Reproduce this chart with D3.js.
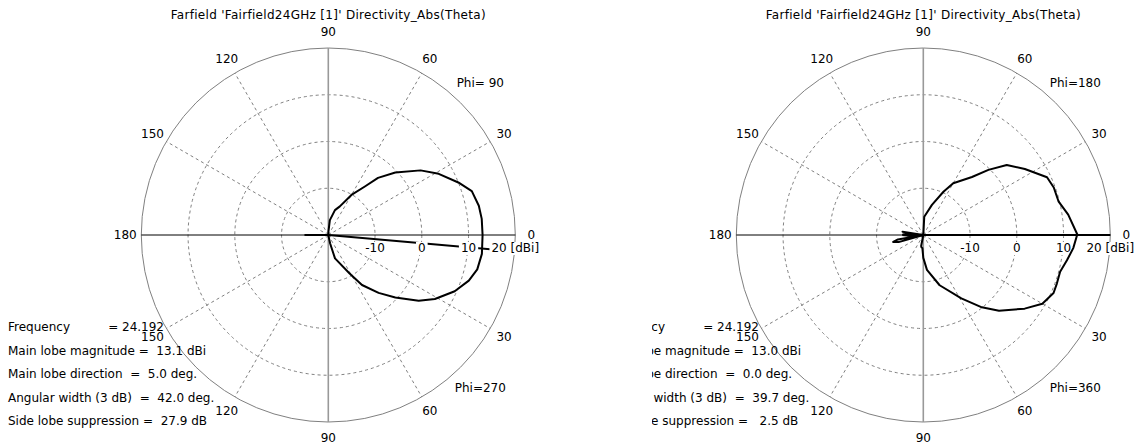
<!DOCTYPE html>
<html lang="en">
<head>
<meta charset="UTF-8"/>
<title>Farfield Directivity</title>
<script src="https://d3js.org/d3.v7.min.js"></script>
<style>
  body { margin: 0; background: #fff; }
  svg { font-family: "DejaVu Sans", "Liberation Sans", Arial, sans-serif; fill: #000; }
  .title { font-size: 12px; letter-spacing: 0.3px; }
  .lbl { font-size: 12px; }
  .info { font-size: 12px; white-space: pre; }
  .grid { fill: none; stroke: #808080; stroke-width: 1; stroke-dasharray: 3,3; }
  .outer { fill: none; stroke: #808080; stroke-width: 1; }
  .haxis { stroke: #000; stroke-width: 1; }
  .vaxis { stroke: #999; stroke-width: 1.6; }
  .curve { fill: none; stroke: #000; stroke-width: 2; stroke-linejoin: round; }
  .dir { stroke: #000; stroke-width: 2; }
</style>
</head>
<body>
<script>
const title = "Farfield 'Fairfield24GHz [1]' Directivity_Abs(Theta)";
const angleTicksTop = [0, 30, 60, 90, 120, 150, 180];
const angleTicksBottom = [30, 60, 90, 120, 150];
const spokeAngles = [30, 60, 120, 150];
const ringTicks = [-10, 0, 10, 20];
const infoLabels = ["Frequency", "Main lobe magnitude", "Main lobe direction", "Angular width (3 dB)", "Side lobe suppression"];

// left plot: Phi=90 (upper half) / Phi=270 (lower half)
const theta90 = [0, 6, 11, 17, 22, 29, 35, 43, 49, 53, 60, 68, 75, 84, 88, 92, 120, 150, 175, 180];
const dir90   = [13.0, 13.0, 12.8, 12.1, 10.0, 7.0, 4.1, -0.4, -3.8, -7.0, -10.1, -13.4, -14.5, -16.8, -19.3, -22, -25, -25, -25, -14.9];
const theta270 = [0, 7, 13, 18, 24, 31, 36, 43, 49, 56, 61, 74, 78, 85, 120, 150, 175, 180];
const dir270   = [13.0, 13.1, 12.7, 11.6, 9.6, 6.6, 3.9, -0.4, -3.6, -7.1, -10.6, -14.8, -18.2, -22, -25, -25, -25, -14.9];
const infoLeft = ["= 24.192", "=  13.1 dBi", "=  5.0 deg.", "=  42.0 deg.", "=  27.9 dB"];

// right plot: Phi=180 (upper half) / Phi=360 (lower half)
const theta180 = [0, 8, 14, 20, 25, 33, 40, 45, 50, 60, 65, 74, 87, 92, 165, 168, 171, 174, 177, 180];
const dir180   = [13.0, 11.3, 9.8, 9.7, 9.2, 5.9, 3.3, -0.3, -3.8, -7.2, -9.8, -13.3, -16.1, -21, -25, -20, -15.5, -20, -16, -15.5];
const theta360 = [0, 5, 10, 15, 20, 24, 30, 36, 45, 51, 59, 72, 84, 90, 94, 98, 101, 104, 160, 164, 167, 170, 174, 177, 180];
const dir360   = [12.9, 12.2, 11.2, 10.3, 10.4, 10.5, 9.4, 6.8, 2.9, -0.1, -4.2, -8.7, -12.5, -15.1, -17.2, -17.3, -17.6, -22, -25, -14.5, -13.4, -14.5, -20, -17, -15.5];
const infoRight = ["= 24.192", "=  13.0 dBi", "=  0.0 deg.", "=  39.7 deg.", "=   2.5 dB"];

const W = 1140, H = 447;
const cx = 328.3, cy = 235, R = 187;

const panels = [
  {x: 0,   clipX: 0,  phiTop: "Phi= 90", phiBottom: "Phi=270",
   upT: theta90, upV: dir90, loT: theta270, loV: dir270, mainDir: -5.0, info: infoLeft},
  {x: 595, clipX: 57, phiTop: "Phi=180", phiBottom: "Phi=360",
   upT: theta180, upV: dir180, loT: theta360, loV: dir360, mainDir: 0.0, info: infoRight}
];

const rScale = d3.scaleLinear().domain([-20, 20]).range([0, R]).clamp(true);
const rad = a => a * Math.PI / 180;
// screen angle in degrees (0 = right, ccw positive) -> x,y offset
const pt = (a, r) => [r * Math.cos(rad(a)), -r * Math.sin(rad(a))];

const svg = d3.select("body").append("svg")
    .attr("width", W)
    .attr("height", H);

panels.forEach((p, i) => {
  svg.append("clipPath").attr("id", "clip" + i)
    .append("rect").attr("x", p.clipX).attr("y", 0).attr("width", 595 - p.clipX).attr("height", H);

  const panel = svg.append("g")
      .attr("transform", `translate(${p.x},0)`)
      .attr("clip-path", `url(#clip${i})`);

  panel.append("text")
      .attr("class", "title")
      .attr("x", cx).attr("y", 19)
      .attr("text-anchor", "middle")
      .text(title);

  const g = panel.append("g").attr("transform", `translate(${cx},${cy})`);

  // dashed rings
  g.selectAll("circle.grid")
    .data(ringTicks.slice(0, -1))
    .join("circle")
      .attr("class", "grid")
      .attr("r", d => rScale(d));

  // dashed spokes
  const spokes = spokeAngles.flatMap(a => [a, -a]);
  g.selectAll("line.grid")
    .data(spokes)
    .join("line")
      .attr("class", "grid")
      .attr("x1", 0).attr("y1", 0)
      .attr("x2", d => pt(d, R)[0])
      .attr("y2", d => pt(d, R)[1]);

  g.append("circle").attr("class", "outer").attr("r", R);
  g.append("line").attr("class", "vaxis").attr("x1", 0).attr("x2", 0).attr("y1", -R).attr("y2", R);
  g.append("line").attr("class", "haxis").attr("x1", -R).attr("x2", R).attr("y1", 0).attr("y2", 0);

  // main lobe direction
  g.append("line").attr("class", "dir")
      .attr("x1", 0).attr("y1", 0)
      .attr("x2", pt(p.mainDir, R)[0])
      .attr("y2", pt(p.mainDir, R)[1]);

  // radial tick labels with white background
  const rl = g.selectAll("g.rlab")
    .data(ringTicks)
    .join("g")
      .attr("class", "rlab");
  rl.append("text")
      .attr("class", "lbl")
      .attr("x", d => rScale(d))
      .attr("y", 17)
      .attr("text-anchor", "middle")
      .text(d => d === 20 ? "20 [dBi]" : d);
  rl.each(function() {
    const t = d3.select(this).select("text");
    const b = t.node().getBBox();
    d3.select(this).insert("rect", "text")
      .attr("x", b.x - 2).attr("y", b.y + 1)
      .attr("width", b.width + 4).attr("height", b.height - 1)
      .attr("fill", "#fff");
  });

  // angle labels
  const angLabels = angleTicksTop.map(a => ({a: a, t: a}))
    .concat(angleTicksBottom.map(a => ({a: -a, t: a})));
  g.selectAll("text.ang")
    .data(angLabels)
    .join("text")
      .attr("class", "lbl ang")
      .attr("x", d => pt(d.a, R + 16)[0])
      .attr("y", d => pt(d.a, R + 16)[1])
      .attr("text-anchor", "middle")
      .attr("dominant-baseline", "central")
      .text(d => d.t);

  g.append("text").attr("class", "lbl")
      .attr("x", 152).attr("y", -152.5)
      .attr("text-anchor", "middle").attr("dominant-baseline", "central")
      .text(p.phiTop);
  g.append("text").attr("class", "lbl")
      .attr("x", 152).attr("y", 152.5)
      .attr("text-anchor", "middle").attr("dominant-baseline", "central")
      .text(p.phiBottom);

  // pattern curve: lower half from 180 to 0, then upper half from 0 to 180
  const pts = p.loT.map((t, k) => ({a: -t, v: p.loV[k]})).reverse()
    .concat(p.upT.map((t, k) => ({a: t, v: p.upV[k]})));
  const line = d3.lineRadial()
      .angle(d => rad(90 - d.a))
      .radius(d => rScale(d.v));
  g.append("path")
      .datum(pts)
      .attr("class", "curve")
      .attr("d", line);

  // info text block
  panel.selectAll("text.info")
    .data(infoLabels)
    .join("text")
      .attr("class", "info")
      .attr("x", 8)
      .attr("y", (d, k) => 331 + k * 23.5)
      .text((d, k) => {
        const pad = [10, 1, 2, 2, 1][k];
        return d + " ".repeat(pad) + p.info[k];
      });
});
</script>
</body>
</html>
